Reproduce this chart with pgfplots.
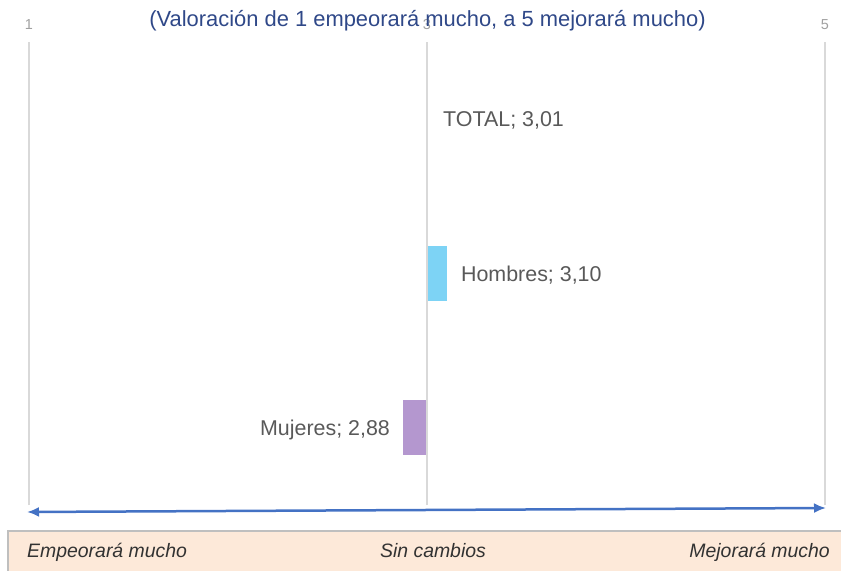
\documentclass[border=0pt]{standalone}
\usepackage{pgfplots}
\pgfplotsset{compat=1.18}
\usepackage{fontspec}
\setmainfont{Liberation Sans}
\usetikzlibrary{arrows.meta}
\definecolor{titleblue}{RGB}{47,72,136}
\definecolor{hcyan}{RGB}{125,211,245}
\definecolor{mpurple}{RGB}{180,151,207}
\definecolor{gridgray}{RGB}{217,217,217}
\definecolor{labgray}{RGB}{89,89,89}
\definecolor{tickgray}{RGB}{160,160,160}
\definecolor{arrowblue}{RGB}{68,114,196}
\definecolor{bandpeach}{RGB}{253,233,217}
\definecolor{bandborder}{RGB}{191,191,191}
\definecolor{bandtext}{RGB}{50,50,50}
\begin{document}
\begin{tikzpicture}[x=1bp,y=1bp]
\clip (0,0) rectangle (841,571);
\begin{axis}[
  at={(29bp,65.8bp)}, anchor=south west,
  scale only axis, width=796bp, height=463.5bp,
  xmin=1, xmax=5, ymin=-0.5, ymax=2.5,
  xtick={1,3,5}, xticklabel pos=upper, ytick=\empty,
  axis line style={draw=none}, major tick length=0pt,
  xmajorgrids, grid style={line width=2.5bp, color=gridgray},
  xticklabel style={font=\fontsize{14.5}{14.5}\selectfont, text=tickgray, yshift=9bp},
  /pgf/number format/assume math mode=true,
  axis on top, clip=false,
]
% TOTAL 3.01
\addplot[fill=white, draw=none] coordinates {(3,1.822) (3.01,1.822) (3.01,2.178) (3,2.178)} -- cycle;
% Hombres 3.10
\addplot[fill=hcyan, draw=none] coordinates {(3,0.822) (3.10,0.822) (3.10,1.178) (3,1.178)} -- cycle;
% Mujeres 2.88
\addplot[fill=mpurple, draw=none] coordinates {(3,-0.178) (2.88,-0.178) (2.88,0.178) (3,0.178)} -- cycle;
\node[anchor=base west, text=labgray, font=\fontsize{21.5}{24}\selectfont, inner sep=0pt, xshift=14bp, yshift=-8bp] at (axis cs:3.01,2) {TOTAL; 3,01};
\node[anchor=base west, text=labgray, font=\fontsize{21.5}{24}\selectfont, inner sep=0pt, xshift=14bp, yshift=-8bp] at (axis cs:3.10,1) {Hombres; 3,10};
\node[anchor=base east, text=labgray, font=\fontsize{21.5}{24}\selectfont, inner sep=0pt, xshift=-13bp, yshift=-8bp] at (axis cs:2.88,0) {Mujeres; 2,88};
\end{axis}
\node[font=\fontsize{22}{24}\selectfont, text=titleblue, inner sep=0pt] at (427.5,550.5) {(Valoración de 1 empeorará mucho, a 5 mejorará mucho)};
\draw[line width=2.5bp, arrowblue, {Latex[length=12bp,width=10bp]}-{Latex[length=12bp,width=10bp]}] (27,59) -- (826,63);
\draw[fill=bandpeach, draw=bandborder, line width=1.5bp] (8,-10) rectangle (860,40);
\node[anchor=base west, inner sep=0pt, text=bandtext, font=\fontsize{19.5}{22}\selectfont\itshape] at (27,13) {Empeorará mucho};
\node[anchor=base, inner sep=0pt, text=bandtext, font=\fontsize{19.5}{22}\selectfont\itshape] at (433,13) {Sin cambios};
\node[anchor=base east, inner sep=0pt, text=bandtext, font=\fontsize{19.5}{22}\selectfont\itshape] at (830,13) {Mejorará mucho};
\end{tikzpicture}
\end{document}
